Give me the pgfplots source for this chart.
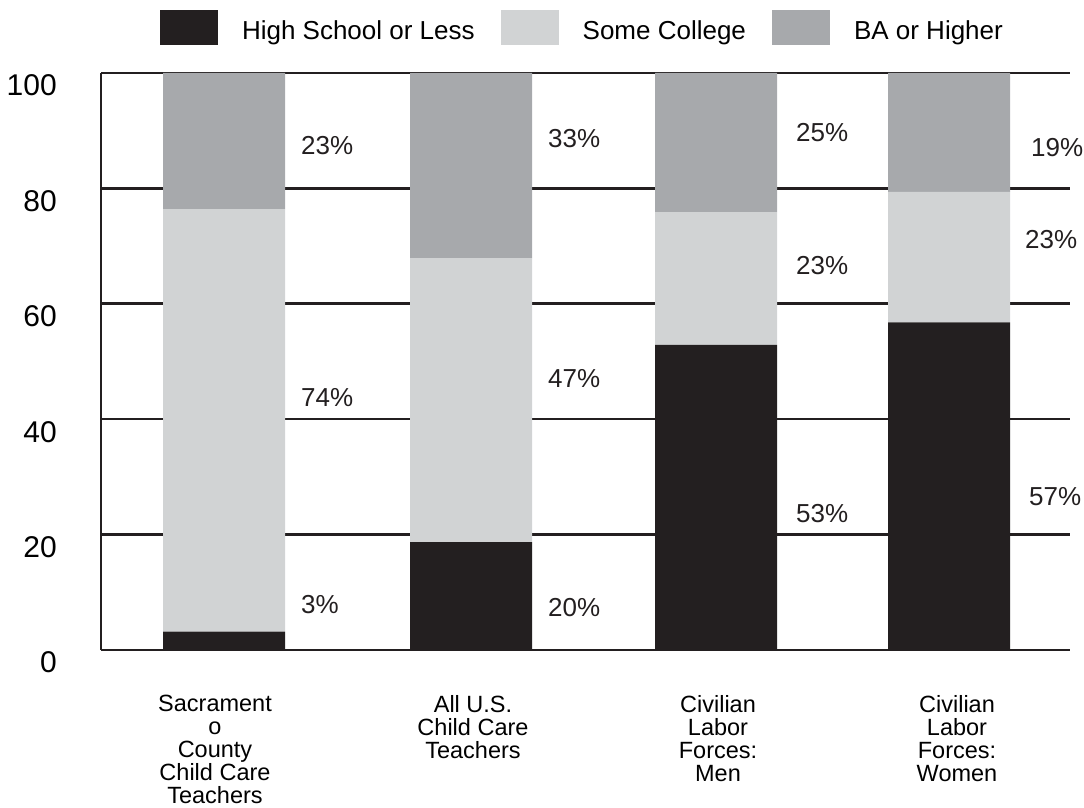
\documentclass[border=0pt]{standalone}
\usepackage{fontspec}
\setmainfont{Liberation Sans}
\usepackage{pgfplots}
\pgfplotsset{compat=1.18}
\definecolor{hs}{HTML}{231F20}
\definecolor{sc}{HTML}{D1D3D4}
\definecolor{ba}{HTML}{A7A9AC}
\tikzset{pct/.style={font=\fontsize{26}{31}\selectfont, anchor=west, inner sep=0pt, text=hs}}
\begin{document}
\begin{tikzpicture}
\useasboundingbox (0,0) rectangle (1084pt,808pt);
\begin{axis}[
  at={(101pt,158pt)}, anchor=south west,
  scale only axis, width=969pt, height=577pt,
  xmin=101, xmax=1070, ymin=0, ymax=100,
  ybar stacked, bar width=122,
  clip=false,
  axis x line=bottom, axis y line=left,
  axis line style={-, draw=hs, line width=2.6pt},
  ytick={0,20,...,100},
  ymajorgrids, grid style={draw=hs, line width=2.6pt},
  major tick length=0pt,
  /pgf/number format/assume math mode=true,
  yticklabel style={font=\fontsize{30}{36}\selectfont, anchor=east, inner sep=0pt, xshift=-44pt, yshift=-12.6pt},
  xtick={215,473,718,957},
  xticklabels={{Sacrament\\o\\County\\Child Care\\Teachers},{All U.S.\\Child Care\\Teachers},{Civilian\\Labor\\Forces:\\Men},{Civilian\\Labor\\Forces:\\Women}},
  xticklabel style={font=\fontsize{23.5}{23}\selectfont, align=center, anchor=north, inner sep=0pt, yshift=-45pt},
  legend columns=3,
  legend style={at={(axis description cs:0.0609,1.0785)}, anchor=west, draw=none, fill=none, inner sep=0pt, outer sep=0pt,
    font=\fontsize{26}{31}\selectfont,
    /tikz/every odd column/.append style={column sep=22pt},
    /tikz/every even column/.append style={column sep=24pt}},
  legend image code/.code={\fill[#1] (0pt,-14.7pt) rectangle (58pt,20.3pt);},
]
\addplot[fill=hs, draw=none] coordinates {(224,3.2) (471,18.7) (716,52.9) (949,56.8)};
\addplot[fill=sc, draw=none] coordinates {(224,73.2) (471,49.2) (716,23.0) (949,22.6)};
\addplot[fill=ba, draw=none] coordinates {(224,23.6) (471,32.1) (716,24.1) (949,20.6)};
\legend{High School or Less, Some College, BA or Higher}
\node[pct] at (axis cs:301,87.5) {23\%};
\node[pct] at (axis cs:301,43.8) {74\%};
\node[pct] at (axis cs:301,7.8) {3\%};
\node[pct] at (axis cs:548,88.7) {33\%};
\node[pct] at (axis cs:548,47.1) {47\%};
\node[pct] at (axis cs:548,7.3) {20\%};
\node[pct] at (axis cs:796,89.6) {25\%};
\node[pct] at (axis cs:796,66.7) {23\%};
\node[pct] at (axis cs:796,23.6) {53\%};
\node[pct] at (axis cs:1031,87.0) {19\%};
\node[pct] at (axis cs:1025,71.1) {23\%};
\node[pct] at (axis cs:1029,26.5) {57\%};
\end{axis}
\end{tikzpicture}
\end{document}
